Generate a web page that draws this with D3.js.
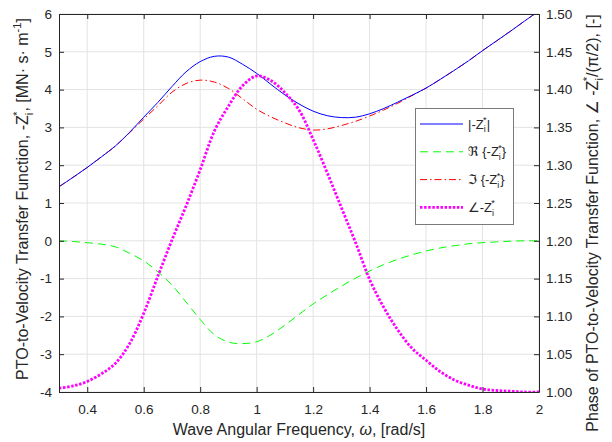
<!DOCTYPE html>
<html>
<head>
<meta charset="utf-8">
<script src="https://cdn.jsdelivr.net/npm/d3@7"></script>
<style>
  body { margin: 0; background: #fff; }
  text { font-family: "Liberation Sans", Arial, "DejaVu Sans", sans-serif; fill: #262626; }
</style>
</head>
<body>
<div id="show-graph"></div>
<script>
// data
var omega = [0.30, 0.35, 0.40, 0.45, 0.50, 0.55, 0.60, 0.65, 0.70, 0.75, 0.80, 0.85, 0.90, 0.95, 1.00,
  1.05, 1.10, 1.15, 1.20, 1.25, 1.30, 1.35, 1.40, 1.45, 1.50, 1.55, 1.60, 1.65, 1.70, 1.75, 1.80,
  1.85, 1.90, 1.95, 2.00]
var zAbs = [1.43, 1.68, 1.94, 2.22, 2.51, 2.87, 3.27, 3.66, 4.08, 4.47, 4.74, 4.88, 4.86, 4.67, 4.43,
  4.14, 3.86, 3.62, 3.43, 3.31, 3.26, 3.27, 3.36, 3.50, 3.67, 3.85, 4.04, 4.27, 4.51, 4.76, 5.03,
  5.29, 5.55, 5.82, 6.08]
var zRe = [0.00, -0.02, -0.05, -0.09, -0.16, -0.33, -0.53, -0.82, -1.17, -1.62, -2.08, -2.48, -2.68, -2.72, -2.67,
  -2.49, -2.23, -1.95, -1.67, -1.43, -1.20, -0.99, -0.80, -0.63, -0.49, -0.37, -0.27, -0.19, -0.13, -0.08, -0.05,
  -0.03, -0.01, 0.00, 0.00]
var zIm = [1.43, 1.68, 1.94, 2.22, 2.51, 2.86, 3.22, 3.57, 3.93, 4.16, 4.25, 4.20, 4.03, 3.76, 3.48,
  3.28, 3.12, 2.99, 2.93, 2.96, 3.05, 3.16, 3.30, 3.46, 3.64, 3.84, 4.04, 4.27, 4.51, 4.76, 5.03,
  5.29, 5.55, 5.82, 6.08]
var zPhase = [1.005, 1.008, 1.014, 1.024, 1.038, 1.064, 1.104, 1.153, 1.201, 1.246, 1.294, 1.345, 1.378, 1.405, 1.418,
  1.412, 1.396, 1.373, 1.334, 1.290, 1.244, 1.198, 1.149, 1.112, 1.082, 1.058, 1.042, 1.027, 1.016, 1.009, 1.004,
  1.002, 1.001, 1.000, 1.000]

var xTicks = [0.4, 0.6, 0.8, 1, 1.2, 1.4, 1.6, 1.8, 2]
var xTickLabels = ['0.4', '0.6', '0.8', '1', '1.2', '1.4', '1.6', '1.8', '2']
var yLeftTicks = [-4, -3, -2, -1, 0, 1, 2, 3, 4, 5, 6]
var yLeftTickLabels = ['-4', '-3', '-2', '-1', '0', '1', '2', '3', '4', '5', '6']
var yRightTicks = [1.00, 1.05, 1.10, 1.15, 1.20, 1.25, 1.30, 1.35, 1.40, 1.45, 1.50]
var yRightTickLabels = ['1.00', '1.05', '1.10', '1.15', '1.20', '1.25', '1.30', '1.35', '1.40', '1.45', '1.50']

// set the dimensions and margins of the graph
var margin = { top: 14, right: 73, bottom: 50, left: 59 }
var width = 612 - margin.left - margin.right
var height = 442 - margin.top - margin.bottom
var ink = '#262626'
var fontFam = '"Liberation Sans", Arial, "DejaVu Sans", sans-serif'

var root = d3.select('#show-graph')
  .append('svg')
  .attr('width', 612)
  .attr('height', 442)
var svg = root.append('g')
  .attr('transform', 'translate(' + margin.left + ',' + margin.top + ')')

var x = d3.scaleLinear().domain([0.3, 2]).range([0, width])
var yL = d3.scaleLinear().domain([-4, 6]).range([height, 0])
var yR = d3.scaleLinear().domain([1, 1.5]).range([height, 0])

// grid
svg.append('g').selectAll('line.gx')
  .data(xTicks).enter().append('line')
  .attr('x1', d => x(d)).attr('x2', d => x(d))
  .attr('y1', 0).attr('y2', height)
  .attr('stroke', '#e3e3e3').attr('stroke-width', 1)
svg.append('g').selectAll('line.gy')
  .data(yLeftTicks).enter().append('line')
  .attr('x1', 0).attr('x2', width)
  .attr('y1', d => yL(d)).attr('y2', d => yL(d))
  .attr('stroke', '#e3e3e3').attr('stroke-width', 1)

// clip the curves to the axes box
root.append('defs').append('clipPath').attr('id', 'plotclip')
  .append('rect').attr('width', width).attr('height', height)

var plot = svg.append('g').attr('clip-path', 'url(#plotclip)')

function drawLine (vals, scale, color, sw, dash) {
  var p = plot.append('path')
    .datum(vals)
    .attr('fill', 'none')
    .attr('stroke', color)
    .attr('stroke-width', sw)
    .attr('d', d3.line()
      .x(function (d, i) { return x(omega[i]) })
      .y(function (d) { return scale(d) })
      .curve(d3.curveCatmullRom.alpha(0.5)))
  if (dash) p.attr('stroke-dasharray', dash)
  return p
}

drawLine(zRe, yL, '#00ff00', 1, '8,5')
drawLine(zIm, yL, '#ff0000', 1, '7,3,1.5,3')
drawLine(zAbs, yL, '#0000ff', 1)
drawLine(zPhase, yR, '#ff00ff', 2.8, '2.5,1.6')

// axes
function styleAxis (g) {
  g.attr('font-size', 13.5).attr('font-family', fontFam).attr('color', ink)
  g.selectAll('text').attr('fill', ink)
}

svg.append('g')
  .attr('transform', 'translate(0,' + height + ')')
  .call(d3.axisBottom(x).tickValues(xTicks)
    .tickFormat((d, i) => xTickLabels[i])
    .tickSizeInner(-5).tickSizeOuter(0).tickPadding(12))
  .call(styleAxis)

svg.append('g')
  .call(d3.axisTop(x).tickValues(xTicks).tickFormat('')
    .tickSizeInner(-5).tickSizeOuter(0))
  .call(styleAxis)

svg.append('g')
  .call(d3.axisLeft(yL).tickValues(yLeftTicks)
    .tickFormat((d, i) => yLeftTickLabels[i])
    .tickSizeInner(-5).tickSizeOuter(0).tickPadding(7))
  .call(styleAxis)

svg.append('g')
  .attr('transform', 'translate(' + width + ',0)')
  .call(d3.axisRight(yR).tickValues(yRightTicks)
    .tickFormat((d, i) => yRightTickLabels[i])
    .tickSizeInner(-5).tickSizeOuter(0).tickPadding(7))
  .call(styleAxis)

// text with sub / superscripts
function richText (txt, parts, fs) {
  var shift = 0
  parts.forEach(function (p) {
    var t = txt.append('tspan').text(p.t)
    var target = 0
    if (p.k === 'sub') target = 0.3 * fs
    if (p.k === 'sup') target = -0.42 * fs
    if (p.k === 'sub' || p.k === 'sup') t.attr('font-size', 0.7 * fs)
    if (target !== shift) t.attr('dy', target - shift)
    shift = target
    if (p.dx) t.attr('dx', p.dx)
    if (p.it) t.attr('font-style', 'italic')
  })
}

var zParts = function (fs) {
  return [{ t: 'Z' }, { t: 'i', k: 'sub' }, { t: '*', k: 'sup', dx: -0.2 * fs }]
}

// x label
var xl = root.append('text')
  .attr('x', margin.left + width / 2)
  .attr('y', 435)
  .attr('text-anchor', 'middle')
  .attr('font-size', 16)
richText(xl, [{ t: 'Wave Angular Frequency, ' }, { t: 'ω', it: true }, { t: ', [rad/s]' }], 16)

// left y label
var ylab = root.append('text')
  .attr('transform', 'translate(28,199) rotate(-90)')
  .attr('text-anchor', 'middle')
  .attr('font-size', 16)
richText(ylab, [{ t: 'PTO-to-Velocity Transfer Function, -' }]
  .concat(zParts(16))
  .concat([{ t: ', [MN· s· m' }, { t: '-1', k: 'sup' }, { t: ']' }]), 16)

// right y label
var yrlab = root.append('text')
  .attr('transform', 'translate(598,223) rotate(-90)')
  .attr('text-anchor', 'middle')
  .attr('font-size', 16)
richText(yrlab, [{ t: 'Phase of PTO-to-Velocity Transfer Function, ∠ -' }]
  .concat(zParts(16))
  .concat([{ t: '/(π/2), [-]' }]), 16)

// legend
var legend = root.append('g')
legend.append('rect')
  .attr('x', 415.5).attr('y', 108.5)
  .attr('width', 98).attr('height', 116)
  .attr('fill', '#fff').attr('stroke', '#7a7a7a').attr('stroke-width', 1)

var legendItems = [
  { color: '#0000ff', sw: 1, dash: null, parts: [{ t: '|-' }].concat(zParts(13)).concat([{ t: '|' }]) },
  { color: '#00ff00', sw: 1, dash: '8,5', parts: [{ t: 'ℜ {-' }].concat(zParts(13)).concat([{ t: '}' }]) },
  { color: '#ff0000', sw: 1, dash: '7,3,1.5,3', parts: [{ t: 'ℑ {-' }].concat(zParts(13)).concat([{ t: '}' }]) },
  { color: '#ff00ff', sw: 2.8, dash: '2.5,1.6', parts: [{ t: '∠-' }].concat(zParts(13)) }
]

legendItems.forEach(function (it, i) {
  var ly = 124 + i * 27.8
  var l = legend.append('line')
    .attr('x1', 420).attr('x2', 463)
    .attr('y1', ly).attr('y2', ly)
    .attr('stroke', it.color).attr('stroke-width', it.sw)
  if (it.dash) l.attr('stroke-dasharray', it.dash)
  var t = legend.append('text')
    .attr('x', 468).attr('y', ly + 4.5)
    .attr('font-size', 13)
  richText(t, it.parts, 13)
})
</script>
</body>
</html>
